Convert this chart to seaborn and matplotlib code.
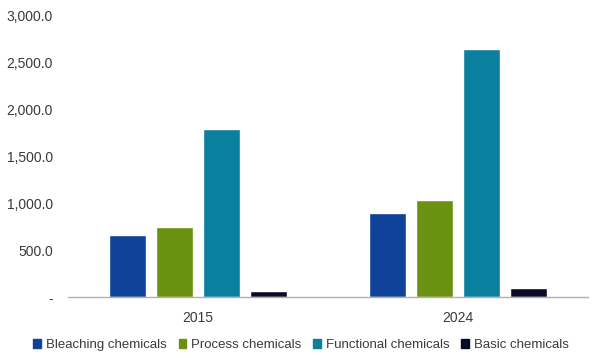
import numpy as np
import pandas as pd
import matplotlib.pyplot as plt
import matplotlib.ticker as mticker
import seaborn as sns

years = ["2015", "2024"]
segments = ["Bleaching chemicals", "Process chemicals", "Functional chemicals", "Basic chemicals"]
bleaching = [661, 892]
process = [746, 1041]
functional = [1791, 2647]
basic = [61, 93]

COLORS = ["#0f4299", "#6a9210", "#0b809e", "#0a0c26"]
TEXT = "#3a3a3a"

df = pd.DataFrame({
    "year": years * 4,
    "segment": np.repeat(segments, len(years)),
    "value": bleaching + process + functional + basic,
})

sns.set_theme(style="white")
plt.rcParams["font.family"] = ["Liberation Sans", "DejaVu Sans"]

fig = plt.figure(figsize=(6.02, 3.61), dpi=100)
ax = fig.add_axes([0.113, 0.177, 0.864, 0.779])

sns.barplot(data=df, x="year", y="value", hue="segment", hue_order=segments,
            order=years, palette=COLORS, width=0.724, gap=0.21,
            saturation=1, ax=ax, legend=False)

ax.set_xlim(-0.5, 1.5)
ax.set_ylim(0, 3000)
ax.set_yticks(np.arange(0, 3001, 500))
ax.yaxis.set_major_formatter(mticker.FuncFormatter(
    lambda v, _: "-" if v == 0 else f"{v:,.1f}"))
ax.set_xlabel("")
ax.set_ylabel("")
for s in ["top", "right", "left"]:
    ax.spines[s].set_visible(False)
ax.spines["bottom"].set_color("#b0b0b0")
ax.spines["bottom"].set_linewidth(1.0)
ax.tick_params(axis="both", length=0, labelsize=10, colors=TEXT)
ax.tick_params(axis="x", pad=10)
ax.tick_params(axis="y", pad=11)

handles = [plt.Rectangle((0, 0), 1, 1, color=c) for c in COLORS]
fig.legend(handles, segments, loc="center", bbox_to_anchor=(0.5, 0.044),
           ncol=4, frameon=False, fontsize=9.5, handlelength=0.6,
           handleheight=0.6, handletextpad=0.35, columnspacing=0.9,
           labelcolor=TEXT)

fig.savefig("out.png", dpi=100, facecolor="white")
